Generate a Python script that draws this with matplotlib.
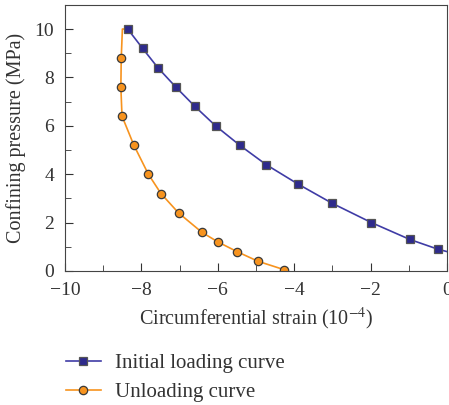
import matplotlib
matplotlib.use("Agg")
import matplotlib.pyplot as plt
from matplotlib.ticker import MultipleLocator

# === data ===
load_strain = [-8.36, -7.97, -7.57, -7.10, -6.60, -6.06, -5.43, -4.74, -3.91, -3.01, -1.98, -0.97, -0.24, 0.0]
load_pressure = [10.0, 9.2, 8.4, 7.6, 6.8, 6.0, 5.2, 4.4, 3.6, 2.8, 2.0, 1.3, 0.9, 0.8]

unload_strain = [-8.36, -8.50, -8.53, -8.54, -8.51, -8.20, -7.82, -7.49, -7.03, -6.42, -6.00, -5.50, -4.95, -4.26]
unload_pressure = [10.0, 10.0, 8.8, 7.6, 6.4, 5.2, 4.0, 3.2, 2.4, 1.6, 1.2, 0.8, 0.4, 0.05]

plt.rcParams["font.family"] = ["Liberation Serif", "DejaVu Serif"]
plt.rcParams["mathtext.fontset"] = "stix"

fig = plt.figure(figsize=(4.49, 4.05), dpi=100)
ax = fig.add_axes([0.145, 0.331, 0.8505, 0.657])

ax.plot(unload_strain, unload_pressure, color="#F7931E", lw=1.2, marker="o", ms=6,
        mfc="#F7931E", mec="#3a3a3a", mew=0.9, markevery=list(range(2, len(unload_strain))),
        label="Unloading curve", zorder=2)
ax.plot(load_strain, load_pressure, color="#3F3CA6", lw=1.2, marker="s", ms=6,
        mfc="#2E2A8C", mec="#555555", mew=0.9, markevery=list(range(len(load_strain) - 1)),
        label="Initial loading curve", zorder=3)

ax.set_xlim(-10, 0)
ax.set_ylim(0, 11)
ax.xaxis.set_major_locator(MultipleLocator(2))
ax.xaxis.set_minor_locator(MultipleLocator(1))
ax.yaxis.set_major_locator(MultipleLocator(2))
ax.yaxis.set_minor_locator(MultipleLocator(1))
ax.tick_params(which="both", direction="in", top=False, right=False, labelsize=14, colors="#333333")
ax.tick_params(which="major", length=6, pad=8)
ax.tick_params(which="minor", length=4)
for s in ax.spines.values():
    s.set_color("#444444")

ax.set_xlabel(r"Circumferential strain (10$^{-4}$)", fontsize=14.5, color="#333333", labelpad=5)
ax.set_ylabel("Confining pressure (MPa)", fontsize=14.5, color="#333333", labelpad=6)

handles, labels = ax.get_legend_handles_labels()
fig.legend(handles[::-1], labels[::-1], loc="upper left", bbox_to_anchor=(0.146, 0.127),
           frameon=False, fontsize=15, handlelength=1.7, handletextpad=0.65,
           labelspacing=0.45, borderpad=0, borderaxespad=0, labelcolor="#333333")

fig.savefig("out.png", dpi=100)
